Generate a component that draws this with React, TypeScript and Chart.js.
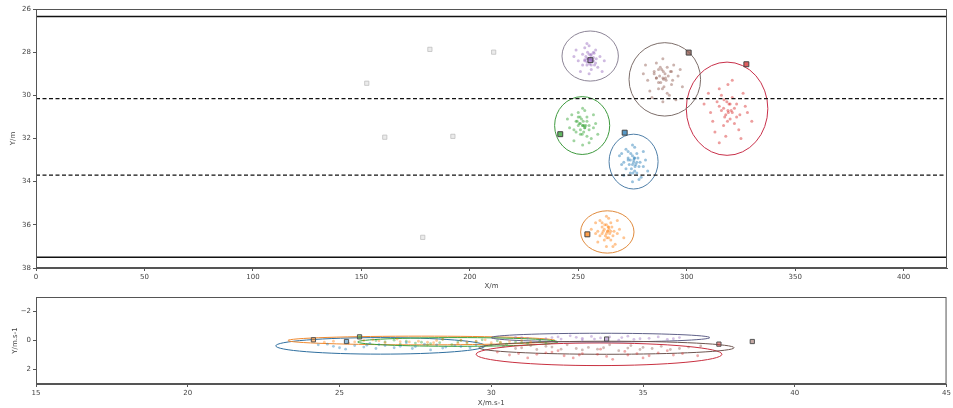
import React, { useEffect, useRef } from 'react';
import { Chart, registerables } from 'chart.js';
Chart.register(...registerables);

// ---------- tick values ----------
const posXTicks = [0, 50, 100, 150, 200, 250, 300, 350, 400];
const posYTicks = [26, 28, 30, 32, 34, 36, 38];
const velXTicks = [15, 20, 25, 30, 35, 40, 45];
const velYTicks = [-2, 0, 2];

// ---------- lane lines (Y/m) ----------
const laneSolidY = [26.35, 37.5];
const laneDashedY = [30.15, 33.7];

// ---------- vehicles: blue, orange, green, red, purple, brown ----------
const vehicleColors = ['#1f77b4', '#ff7f0e', '#2ca02c', '#d62728', '#9467bd', '#8c564b'];
const posEllipseColors = ['#4f7fa8', '#e08a3c', '#3f9a3f', '#c8304a', '#8c8496', '#7d6e6a'];
const velEllipseColors = ['#2f6f9f', '#f08a30', '#3aa03a', '#c83040', '#5f6088', '#6d5550'];

// position markers (X/m, Y/m)
const posMarkerX = [271.4, 254.2, 241.7, 327.5, 255.6, 300.9];
const posMarkerY = [31.73, 36.44, 31.8, 28.56, 28.37, 28.02];

// position uncertainty ellipses
const posEllCx = [275.5, 263.4, 251.8, 318.6, 255.5, 289.9];
const posEllCy = [33.07, 36.33, 31.4, 30.62, 28.18, 29.26];
const posEllRx = [11.3, 12.3, 12.7, 18.8, 13.0, 16.5];
const posEllRy = [1.27, 0.98, 1.34, 2.16, 1.16, 1.7];

// faint history markers
const histX = [181.6, 211.0, 152.5, 160.8, 192.2, 178.3];
const histY = [27.87, 28.0, 29.44, 31.94, 31.9, 36.58];

// position sample clouds
const posCloudBlue = [[275.5,33.1],[273,32.9],[278,33.3],[274,33.6],[277,32.7],[270,33.2],[281,33.0],[272,32.5],[279,33.8],[271,33.7],[280,32.6],[275,32.3],[269,32.8],[282,33.5],[275,33.2],[276,32.9],[272,33.4],[278,33.9],[273,32.6],[277,33.6],[270,32.7],[280,33.3],[275,34.0],[276,32.4],[271,33.1],
  [274,33.0],[276.5,33.2],[275,32.8],[277,33.1],[274.5,33.4],[276,33.5],[273.5,33.2],[275.8,32.9],[277.5,32.9],[274.2,32.7],[276.2,33.3],[275.2,33.6],[273,33.0],[278.5,33.1],[275.6,33.0]];
const posCloudOrange = [[263.5,36.3],[261,36.1],[266,36.5],[262,36.7],[265,35.9],[258,36.4],[269,36.2],[260,35.8],[267,36.9],[259,36.8],[268,35.8],[263,35.6],[256,36.2],[271,36.6],[263,36.4],[264,36.1],[260,36.5],[266,37.0],[261,35.9],[265,36.7],[258,35.9],[268,36.4],[263,37.0],[264,35.7],[259,36.3],
  [262,36.2],[264.5,36.4],[263,36.0],[265,36.3],[262.5,36.5],[264,36.6],[261.5,36.3],[263.8,36.1],[265.5,36.1],[262.2,36.0],[264.2,36.2],[263.2,36.6],[261,36.4],[266.5,36.3],[263.6,36.3]];
const posCloudGreen = [[252,31.4],[249,31.2],[255,31.6],[251,31.8],[254,31.0],[246,31.5],[258,31.3],[250,30.8],[256,32.0],[248,32.1],[257,30.9],[252,30.6],[245,31.1],[259,31.8],[251,31.3],[253,31.5],[249,31.7],[255,32.2],[250,31.0],[254,31.9],[247,30.9],[257,31.5],[252,32.3],[253,30.7],[248,31.6],
  [250.5,31.3],[253,31.5],[251.5,31.1],[253.5,31.4],[251,31.6],[252.5,31.7],[250,31.4],[252.3,31.2],[254,31.2],[250.8,31.0],[252.8,31.4],[251.8,31.8],[249.5,31.2],[255,31.4],[252.1,31.4]];
const posCloudRed = [[319,30.7],[314,30.3],[323,31.0],[317,31.4],[321,30.1],[311,30.8],[327,30.5],[315,29.7],[324,31.6],[313,31.7],[326,29.9],[319,29.5],[308,30.4],[330,31.2],[318,30.9],[320,30.4],[312,31.2],[325,32.0],[316,30.0],[322,31.3],[310,29.9],[328,30.8],[318,31.9],[321,29.3],[315,32.2],
  [317,30.6],[321,30.8],[318.5,30.3],[322,30.6],[317.5,31.0],[320,31.1],[316,30.7],[319.5,30.4],[323,30.4],[317.2,30.2],[320.5,30.7],[318.8,31.2],[315,30.5],[324.5,30.9],[319.2,30.8]];
const posCloudPurple = [[255.5,28.3],[252,28.1],[258,28.5],[254,28.6],[257,28.0],[250,28.4],[260,28.2],[253,27.8],[256,28.8],[251,28.9],[259,28.7],[255,27.7],[248,28.2],[262,28.4],[254,28.3],[257,28.4],[253,28.4],[256,28.1],[252,28.6],[258,27.9],[249,27.9],[261,28.9],[255,29.0],[254,27.6],[257.5,28.6],
  [254.5,28.3],[256.5,28.4],[255,28.1],[257,28.25],[254,28.45],[256,28.6],[253.5,28.2],[255.8,28.15],[257.3,28.05],[254.3,28.0],[256.2,28.35],[255.2,28.55],[253,28.35],[258.3,28.3],[255.6,28.3]];
const posCloudBrown = [[289,29.2],[285,28.9],[293,29.5],[287,29.7],[291,28.7],[282,29.3],[296,29.1],[286,28.5],[292,30.0],[284,30.1],[294,28.6],[289,28.3],[280,29.0],[298,29.6],[288,29.4],[290,29.0],[283,29.8],[295,30.2],[287,28.8],[291,29.9],[286,29.2],[293,28.9],[289,30.3],[297,28.8],[281,28.6],
  [287.5,29.1],[290.5,29.3],[288.5,28.8],[291.5,29.1],[287,29.4],[289.5,29.6],[286,29.2],[289.2,28.9],[292.5,28.9],[287.8,28.7],[290.2,29.2],[288.8,29.7],[285,29.0],[293.5,29.3],[289.3,29.25]];

// velocity markers (X/m.s-1, Y/m.s-1)
const velMarkerX = [25.23, 24.14, 25.66, 37.5, 33.8, 38.6];
const velMarkerY = [0.07, -0.05, -0.25, 0.25, -0.1, 0.07];

// velocity ellipses
const velEllCx = [26.35, 27.7, 28.9, 33.55, 33.6, 33.8];
const velEllCy = [0.37, 0.0, 0.1, 0.95, -0.2, 0.5];
const velEllRx = [3.45, 4.4, 3.3, 4.05, 3.6, 4.2];
const velEllRy = [0.57, 0.3, 0.3, 0.78, 0.3, 0.45];

// velocity sample clouds
const velCloudBlue = [[27,0.4],[25.5,0.35],[28.5,0.45],[26.2,0.55],[27.8,0.25],[24.8,0.4],[29.3,0.5],[26,0.2],[28,0.65],[25.2,0.6],[29.5,0.3],[27.2,0.15],[24.3,0.3],[26.8,0.5],[28.8,0.35],[25.8,0.45],
  [26.5,0.35],[27.5,0.42],[25,0.5],[28.2,0.3],[26.3,0.28],[29,0.42],[24.6,0.25],[27.4,0.55],[25.9,0.32],[28.4,0.52]];
const velCloudOrange = [[27.6,0.05],[25.8,0.0],[29.2,0.1],[26.5,0.15],[28.4,-0.08],[24.8,0.05],[30.3,0.12],[26.9,-0.1],[28.9,0.2],[25.3,0.18],[31.0,0.0],[27.3,0.1],[29.8,-0.05],[26.1,-0.05],[28.1,0.15],[30.6,0.08],
  [27,0.08],[28.2,0.0],[25.5,0.1],[29.5,0.05],[26.3,0.02],[30,0.15],[24.5,0.12],[27.9,0.12],[29,-0.02],[31.3,0.1]];
const velCloudGreen = [[28.9,0.1],[27.2,0.05],[30.3,0.15],[28,0.22],[29.7,-0.05],[26.5,0.1],[31.2,0.2],[28.4,-0.08],[30,0.3],[27,0.25],[31.6,0.05],[29.2,0.18],[26.2,0.0],[28.7,0.28],[30.8,0.1],[27.7,0.12],
  [28.3,0.15],[29.5,0.08],[27.5,0.18],[30.5,0.25],[26.8,-0.02],[31,0.15],[29,0.0],[27.9,0.3],[30.2,0.02],[31.8,0.18]];
const velCloudRed = [[33.5,0.95],[31.8,0.85],[35.2,1.05],[32.7,1.2],[34.4,0.75],[30.6,1.0],[36.3,0.9],[32.2,0.7],[34,1.3],[31.2,1.2],[35.8,0.7],[33.6,0.6],[30.2,0.8],[35,1.2],[32.9,1.0],[36.8,1.05],
  [33,0.9],[34.5,1.0],[31.5,0.95],[35.5,0.85],[32.4,1.05],[34.8,0.9],[30.9,0.9],[33.8,1.1],[36,1.0],[32,0.8]];
const velCloudPurple = [[33.6,-0.18],[32,-0.2],[35.2,-0.15],[33,-0.05],[34.5,-0.3],[31.2,-0.15],[36.2,-0.2],[32.6,-0.32],[34.2,-0.02],[31.6,-0.05],[35.8,-0.08],[33.9,-0.25],[30.8,-0.22],[34.9,-0.12],[32.3,-0.1],[33.3,-0.28],
  [33,-0.15],[34.3,-0.2],[32.2,-0.25],[35.5,-0.25],[31.8,-0.12],[34.7,-0.08],[33.4,-0.1],[36,-0.12],[31,-0.2],[32.8,-0.22]];
const velCloudBrown = [[33.7,0.5],[32,0.45],[35.3,0.55],[33,0.65],[34.6,0.35],[31,0.5],[36.5,0.45],[32.5,0.3],[34.2,0.7],[31.5,0.62],[35.9,0.62],[33.9,0.3],[30.4,0.4],[35,0.48],[32.8,0.55],[36.9,0.38],
  [33.2,0.48],[34.5,0.52],[31.8,0.4],[35.6,0.4],[32.3,0.6],[36.2,0.55],[33.5,0.6],[30.8,0.55],[34.9,0.62],[31.3,0.35]];

const posClouds = [posCloudBlue, posCloudOrange, posCloudGreen, posCloudRed, posCloudPurple, posCloudBrown];
const velClouds = [velCloudBlue, velCloudOrange, velCloudGreen, velCloudRed, velCloudPurple, velCloudBrown];

const FONT = 'DejaVu Sans';
const TEXT = '#444';
const SPINE = '#555';

function hexA(hex: string, a: number) {
  const n = parseInt(hex.slice(1), 16);
  return `rgba(${(n >> 16) & 255},${(n >> 8) & 255},${n & 255},${a})`;
}

function makeOverlay(cx: number[], cy: number[], rx: number[], ry: number[], cols: string[], lw: number) {
  return {
    id: 'overlay',
    beforeDatasetsDraw(chart: any) {
      const { ctx, chartArea, scales } = chart;
      const x = scales.x, y = scales.y;
      ctx.save();
      ctx.beginPath();
      ctx.rect(chartArea.left, chartArea.top, chartArea.right - chartArea.left, chartArea.bottom - chartArea.top);
      ctx.clip();
      for (let i = 0; i < cx.length; i++) {
        const px = x.getPixelForValue(cx[i]);
        const py = y.getPixelForValue(cy[i]);
        const prx = Math.abs(x.getPixelForValue(cx[i] + rx[i]) - px);
        const pry = Math.abs(y.getPixelForValue(cy[i] + ry[i]) - py);
        ctx.beginPath();
        ctx.ellipse(px, py, prx, pry, 0, 0, Math.PI * 2);
        ctx.strokeStyle = cols[i];
        ctx.lineWidth = lw;
        ctx.stroke();
      }
      ctx.restore();
    },
    afterDraw(chart: any) {
      const { ctx, chartArea } = chart;
      ctx.save();
      ctx.strokeStyle = SPINE;
      ctx.lineWidth = 1;
      ctx.strokeRect(chartArea.left + 0.5, chartArea.top + 0.5, chartArea.right - chartArea.left - 1, chartArea.bottom - chartArea.top - 1);
      ctx.restore();
    },
  };
}

function axis(ticks: number[], min: number, max: number, reverse: boolean, title: string, titlePad: any, fit: number, isX: boolean) {
  return {
    type: 'linear',
    min, max, reverse,
    afterBuildTicks: (s: any) => { s.ticks = ticks.map((v) => ({ value: v })); },
    afterFit: (s: any) => { if (isX) s.height = fit; else s.width = fit; },
    grid: { display: true, drawOnChartArea: false, drawTicks: true, tickLength: 3, color: SPINE, lineWidth: 1 },
    border: { display: true, color: SPINE, width: 1 },
    ticks: {
      font: { family: FONT, size: 7 }, color: TEXT, padding: 2, maxRotation: 0, autoSkip: false,
      callback: (v: any) => String(v).replace('-', '\u2212'),
    },
    title: { display: true, text: title, font: { family: FONT, size: 7 }, color: TEXT, padding: titlePad },
  };
}

function cloudDatasets(clouds: number[][][], r: number, a: number) {
  return clouds.map((c, i) => ({
    type: 'scatter',
    data: c.map(([x, y]) => ({ x, y })),
    pointRadius: r,
    pointBorderWidth: 0,
    backgroundColor: hexA(vehicleColors[i], a),
    order: 3,
  }));
}

function markerDataset(xs: number[], ys: number[], fills: string[], edge: string, r: number) {
  return {
    type: 'scatter',
    data: xs.map((x, i) => ({ x, y: ys[i] })),
    pointStyle: 'rect',
    pointRadius: r,
    backgroundColor: fills,
    borderColor: edge,
    pointBorderWidth: 1,
    order: 0,
  };
}

function posConfig(): any {
  const lanes = [
    ...laneSolidY.map((v) => ({ type: 'line', data: [{ x: 0, y: v }, { x: 420, y: v }], borderColor: '#111', borderWidth: 1.5, pointRadius: 0, order: 1 })),
    ...laneDashedY.map((v) => ({ type: 'line', data: [{ x: 0, y: v }, { x: 420, y: v }], borderColor: '#111', borderWidth: 1.2, borderDash: [4, 2.5], pointRadius: 0, order: 1 })),
  ];
  return {
    type: 'scatter',
    data: {
      datasets: [
        markerDataset(posMarkerX, posMarkerY, vehicleColors.map((c) => hexA(c, 0.75)), '#444', 3.5),
        markerDataset(histX, histY, histX.map(() => 'rgba(215,215,215,0.5)'), 'rgba(185,185,185,0.7)', 3),
        ...lanes,
        ...cloudDatasets(posClouds, 1.5, 0.45),
      ],
    },
    options: {
      responsive: false, animation: false, events: [],
      layout: { padding: { top: 9, right: 6, left: 0, bottom: 0 } },
      plugins: { legend: { display: false }, tooltip: { enabled: false } },
      scales: {
        x: axis(posXTicks, 0, 420, false, 'X/m', { top: 0, bottom: 0 }, 22, true),
        y: axis(posYTicks, 26, 38, true, 'Y/m', { top: 9, bottom: 0 }, 36, false),
      },
    },
    plugins: [makeOverlay(posEllCx, posEllCy, posEllRx, posEllRy, posEllipseColors, 1)],
  };
}

function velConfig(): any {
  return {
    type: 'scatter',
    data: {
      datasets: [
        markerDataset(velMarkerX, velMarkerY, vehicleColors.map((c) => hexA(c, 0.5)), '#555', 3),
        ...cloudDatasets(velClouds, 1.4, 0.4),
      ],
    },
    options: {
      responsive: false, animation: false, events: [],
      layout: { padding: { top: 7, right: 6, left: 0, bottom: 0 } },
      plugins: { legend: { display: false }, tooltip: { enabled: false } },
      scales: {
        x: axis(velXTicks, 15, 45, false, 'X/m.s-1', { top: 0, bottom: 1 }, 24, true),
        y: axis(velYTicks, -3, 3, true, 'Y/m.s-1', { top: 11, bottom: 0 }, 36, false),
      },
    },
    plugins: [makeOverlay(velEllCx, velEllCy, velEllRx, velEllRy, velEllipseColors, 1)],
  };
}

function ChartCanvas({ make, top, width, height }: { make: () => any; top: number; width: number; height: number }) {
  const ref = useRef<HTMLCanvasElement | null>(null);
  useEffect(() => {
    const chart = new Chart(ref.current as HTMLCanvasElement, make());
    return () => chart.destroy();
  }, []);
  return (
    <canvas
      ref={ref}
      width={width}
      height={height}
      style={{ position: 'absolute', left: 0, top, width, height, display: 'block' }}
    />
  );
}

export default function App() {
  return (
    <div style={{ position: 'fixed', left: 0, top: 0, width: 953, height: 408, background: '#fff', overflow: 'hidden' }}>
      <ChartCanvas make={posConfig} top={0} width={953} height={290} />
      <ChartCanvas make={velConfig} top={290} width={953} height={118} />
    </div>
  );
}
